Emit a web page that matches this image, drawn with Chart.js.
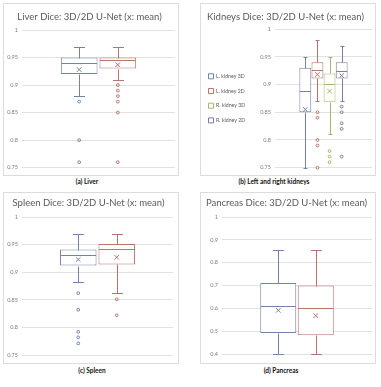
<!DOCTYPE html>
<html><head><meta charset="utf-8">
<script src="https://cdn.jsdelivr.net/npm/chart.js@4.4.1/dist/chart.umd.min.js"></script>
<style>
html,body{margin:0;padding:0;background:#fff}
body{width:381px;height:387px;position:relative;overflow:hidden;font-family:Lato,sans-serif}
.panel{position:absolute;border:1px solid #dcdcdc;background:#fff}
.panel canvas{display:block}
.cap{position:absolute;font-family:Lato,sans-serif;font-weight:bold;font-size:6.5px;color:#111;text-align:center;width:140px;white-space:nowrap}
</style></head><body>
<div class="panel" style="left:3px;top:3px;width:174px;height:171px"><canvas id="cLiver" width="174" height="171"></canvas></div>
<div class="panel" style="left:200px;top:3px;width:174px;height:171px"><canvas id="cKidney" width="174" height="171"></canvas></div>
<div class="panel" style="left:3px;top:192px;width:174px;height:170px"><canvas id="cSpleen" width="174" height="170"></canvas></div>
<div class="panel" style="left:200px;top:192px;width:174px;height:170px"><canvas id="cPancreas" width="174" height="170"></canvas></div>
<div class="cap" style="left:17px;top:178px">(a) Liver</div>
<div class="cap" style="left:204px;top:178px">(b) Left and right kidneys</div>
<div class="cap" style="left:22px;top:367px">(c) Spleen</div>
<div class="cap" style="left:211px;top:367px">(d) Pancreas</div>
<script>
// ---------- data ----------
const liverSeries = ['3D', '2D'];
const liverMin = [0.88, 0.91];
const liverQ1 = [0.92, 0.93];
const liverMedian = [0.94, 0.945];
const liverQ3 = [0.95, 0.95];
const liverMax = [0.97, 0.97];
const liverMean = [0.928, 0.937];
const liverOutliers = [[0.87, 0.80, 0.76], [0.90, 0.89, 0.88, 0.87, 0.85, 0.76]];

const kidneySeries = ['L. kidney 3D', 'L. kidney 2D', 'R. kidney 3D', 'R. kidney 2D'];
const kidneyMin = [0.75, 0.87, 0.81, 0.87];
const kidneyQ1 = [0.85, 0.911, 0.869, 0.911];
const kidneyMedian = [0.888, 0.926, 0.90, 0.924];
const kidneyQ3 = [0.93, 0.94, 0.92, 0.94];
const kidneyMax = [0.95, 0.98, 0.95, 0.97];
const kidneyMean = [0.855, 0.918, 0.888, 0.916];
const kidneyOutliers = [[], [0.85, 0.84, 0.80, 0.79, 0.75], [0.78, 0.77, 0.76], [0.86, 0.85, 0.83, 0.82, 0.77]];

const spleenSeries = ['3D', '2D'];
const spleenMin = [0.882, 0.862];
const spleenQ1 = [0.912, 0.914];
const spleenMedian = [0.932, 0.942];
const spleenQ3 = [0.941, 0.951];
const spleenMax = [0.97, 0.97];
const spleenMean = [0.923, 0.927];
const spleenOutliers = [[0.862, 0.832, 0.792, 0.782, 0.771], [0.851, 0.822]];

const pancreasSeries = ['3D', '2D'];
const pancreasMin = [0.40, 0.40];
const pancreasQ1 = [0.492, 0.482];
const pancreasMedian = [0.612, 0.60];
const pancreasQ3 = [0.711, 0.70];
const pancreasMax = [0.854, 0.854];
const pancreasMean = [0.591, 0.568];
const pancreasOutliers = [[], []];

const ticksHigh = [0.75, 0.8, 0.85, 0.9, 0.95, 1];
const ticksPancreas = [0.4, 0.5, 0.6, 0.7, 0.8, 0.9, 1];

const titles = {
  liver: 'Liver Dice: 3D/2D U-Net (x: mean)',
  kidney: 'Kidneys Dice: 3D/2D U-Net (x: mean)',
  spleen: 'Spleen Dice: 3D/2D U-Net (x: mean)',
  pancreas: 'Pancreas Dice: 3D/2D U-Net (x: mean)'
};

const colors3D2D = ['#7184a8', '#b8746c'];
const colorsKidney = ['#7184a8', '#b8746c', '#abb46f', '#827a9c'];

// ---------- box plot extras ----------
const boxExtras = {
  id: 'boxExtras',
  afterDatasetsDraw(chart) {
    const ctx = chart.ctx, ys = chart.scales.y;
    chart.data.datasets.forEach((ds, i) => {
      const bar = chart.getDatasetMeta(i).data[0];
      if (!bar) return;
      const s = ds.stats;
      const x = Math.round(bar.x) + 0.5;
      const w = bar.width;
      const left = bar.x - w / 2, right = bar.x + w / 2;
      const py = v => Math.round(ys.getPixelForValue(v)) + 0.5;
      ctx.save();
      ctx.strokeStyle = ds.borderColor;
      ctx.lineWidth = 1;
      const cap = Math.max(2, w * 0.15);
      ctx.beginPath();
      ctx.moveTo(x, py(s.q3)); ctx.lineTo(x, py(s.max));
      ctx.moveTo(x - cap, py(s.max)); ctx.lineTo(x + cap, py(s.max));
      ctx.moveTo(x, py(s.q1)); ctx.lineTo(x, py(s.min));
      ctx.moveTo(x - cap, py(s.min)); ctx.lineTo(x + cap, py(s.min));
      ctx.moveTo(left + 0.5, py(s.median)); ctx.lineTo(right - 0.5, py(s.median));
      ctx.stroke();
      const my = ys.getPixelForValue(s.mean), d = 2.3;
      ctx.beginPath();
      ctx.moveTo(bar.x - d, my - d); ctx.lineTo(bar.x + d, my + d);
      ctx.moveTo(bar.x - d, my + d); ctx.lineTo(bar.x + d, my - d);
      ctx.stroke();
      s.outliers.forEach(v => {
        ctx.beginPath();
        ctx.arc(bar.x, ys.getPixelForValue(v), 1.4, 0, Math.PI * 2);
        ctx.stroke();
      });
      ctx.restore();
    });
  }
};

function fmt(v) { return String(Number(v.toFixed(2))); }

function buildDatasets(series, colors, mins, q1, med, q3, maxs, means, outs) {
  return series.map((name, i) => ({
    label: name,
    data: [[q1[i], q3[i]]],
    backgroundColor: '#ffffff',
    borderColor: colors[i],
    borderWidth: 1,
    borderSkipped: false,
    stats: { min: mins[i], q1: q1[i], median: med[i], q3: q3[i], max: maxs[i], mean: means[i], outliers: outs[i] }
  }));
}

function makeChart(id, o) {
  return new Chart(document.getElementById(id), {
    type: 'bar',
    data: { labels: [''], datasets: o.datasets },
    options: {
      responsive: false,
      animation: false,
      events: [],
      categoryPercentage: o.catPct,
      barPercentage: o.barPct,
      layout: { padding: o.padding },
      plugins: {
        tooltip: { enabled: false },
        title: {
          display: true, text: o.title, color: '#595959',
          font: { family: 'Lato', size: 9.5, weight: 'normal', lineHeight: 1.2 },
          padding: o.titlePad
        },
        legend: o.legend || { display: false }
      },
      scales: {
        x: { display: false },
        y: {
          min: o.ticks[0], max: o.ticks[o.ticks.length - 1],
          afterBuildTicks: sc => { sc.ticks = o.ticks.map(v => ({ value: v })); },
          afterFit: sc => {
            const lw = (o.legend && sc.chart.legend) ? sc.chart.legend.width : 0;
            sc.width = o.plotLeft - lw - (o.padding.left || 0);
          },
          border: { display: false },
          grid: { color: '#e2e2e2', drawTicks: false, lineWidth: 1 },
          ticks: {
            padding: 4, color: '#7a7a7a',
            font: { family: 'Lato', size: 5.5 },
            callback: v => fmt(v)
          }
        }
      }
    },
    plugins: [boxExtras]
  });
}

makeChart('cLiver', {
  datasets: buildDatasets(liverSeries, colors3D2D, liverMin, liverQ1, liverMedian, liverQ3, liverMax, liverMean, liverOutliers),
  title: titles.liver, ticks: ticksHigh,
  padding: { left: 0, right: 3, top: 0, bottom: 7 }, plotLeft: 18,
  titlePad: { top: 7.3, bottom: 7.3 },
  catPct: 0.505, barPct: 0.95
});

makeChart('cKidney', {
  datasets: buildDatasets(kidneySeries, colorsKidney, kidneyMin, kidneyQ1, kidneyMedian, kidneyQ3, kidneyMax, kidneyMean, kidneyOutliers),
  title: titles.kidney, ticks: ticksHigh,
  padding: { left: -2, right: 3, top: 0, bottom: 6 }, plotLeft: 74,
  titlePad: { top: 6.8, bottom: 6.8 },
  catPct: 0.5, barPct: 0.98,
  legend: {
    display: true, position: 'left', fullSize: false, maxWidth: 62,
    labels: {
      boxWidth: 5, boxHeight: 5, padding: 9.5, color: '#595959',
      font: { family: 'Lato', size: 5.2 },
      generateLabels: chart => chart.data.datasets.map((ds, i) => ({
        text: ds.label, fillStyle: '#ffffff', strokeStyle: ds.borderColor,
        lineWidth: 1, hidden: false, datasetIndex: i, fontColor: '#595959'
      }))
    }
  }
});

makeChart('cSpleen', {
  datasets: buildDatasets(spleenSeries, colors3D2D, spleenMin, spleenQ1, spleenMedian, spleenQ3, spleenMax, spleenMean, spleenOutliers),
  title: titles.spleen, ticks: ticksHigh,
  padding: { left: 0, right: 5, top: 0, bottom: 8 }, plotLeft: 18,
  titlePad: { top: 4.3, bottom: 8.3 },
  catPct: 0.51, barPct: 0.95
});

makeChart('cPancreas', {
  datasets: buildDatasets(pancreasSeries, colors3D2D, pancreasMin, pancreasQ1, pancreasMedian, pancreasQ3, pancreasMax, pancreasMean, pancreasOutliers),
  title: titles.pancreas, ticks: ticksPancreas,
  padding: { left: 0, right: 3, top: 0, bottom: 9 }, plotLeft: 21,
  titlePad: { top: 4.3, bottom: 8.3 },
  catPct: 0.5, barPct: 0.96
});
</script>
</body></html>
